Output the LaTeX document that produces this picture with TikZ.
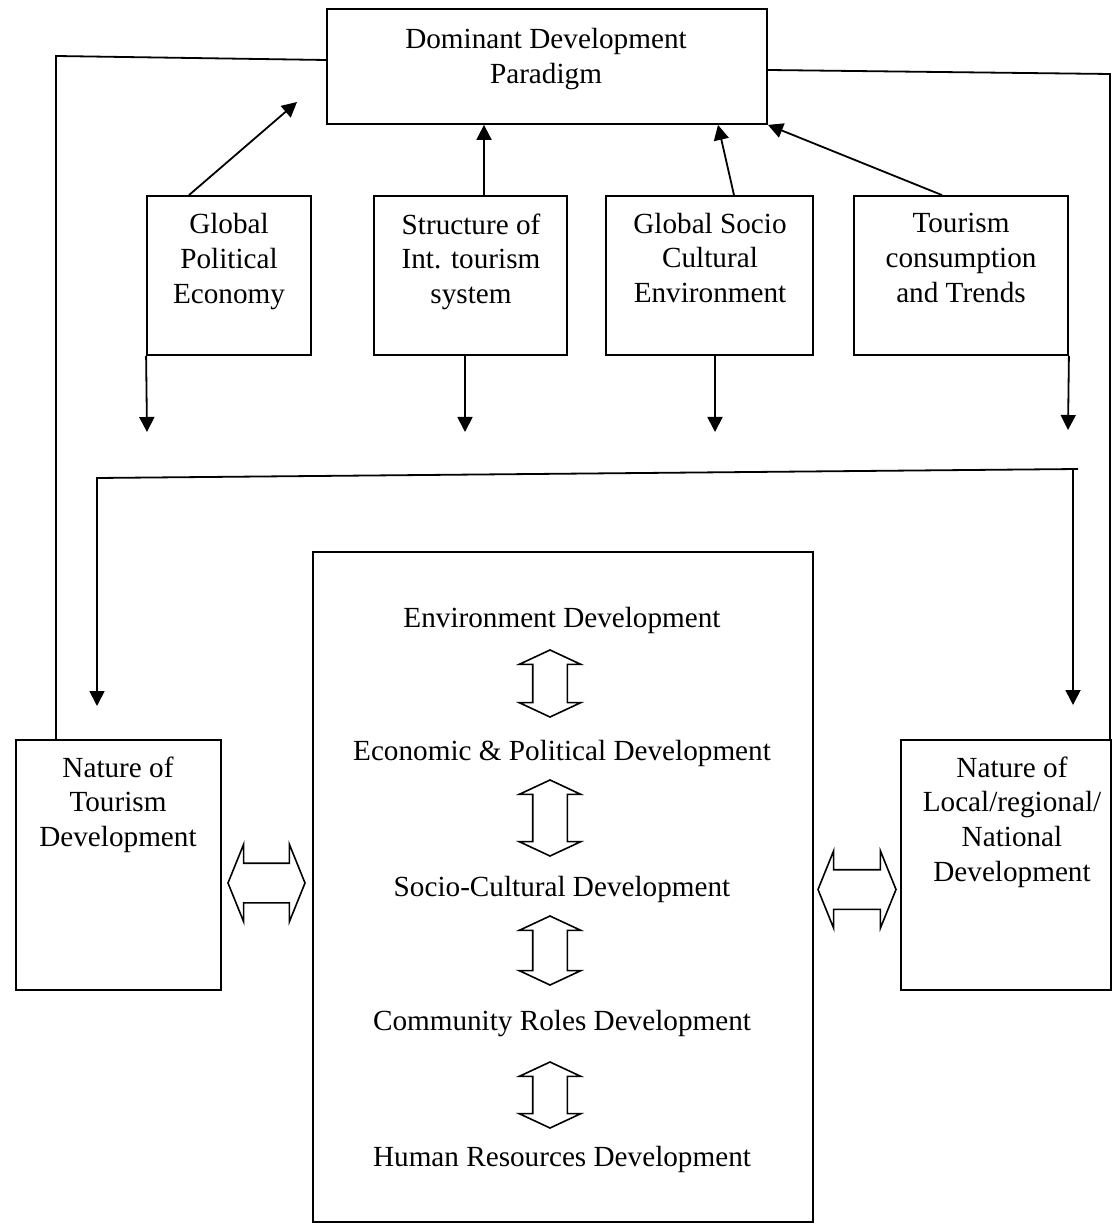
\documentclass[tikz,border=0pt]{standalone}
\usepackage{fontspec}
\setmainfont{Liberation Serif}
\usetikzlibrary{arrows.meta,shapes.arrows}

\tikzset{
  box/.style={draw, line width=0.9pt, inner sep=0pt},
  txt/.style={align=center, inner sep=0pt, font=\fontsize{14.6}{17.3}\selectfont},
  link/.style={line width=0.9pt},
  flow/.style={line width=0.9pt, -{Triangle[length=7.5pt,width=7.5pt]}},
  vdbl/.style={draw, line width=0.8pt, shape=double arrow, rotate=90, inner xsep=0pt,
    inner ysep=8.25pt, double arrow head extend=6.75pt, double arrow tip angle=130},
  hdbl/.style={draw, line width=0.8pt, shape=double arrow, inner xsep=0pt,
    inner ysep=9.5pt, double arrow head extend=9.5pt, double arrow tip angle=136},
}

\begin{document}
\begin{tikzpicture}[x=0.5pt,y=-0.5pt]
\useasboundingbox (0,0) rectangle (1112,1224);

% paradigm on top
\node[box, minimum width=220pt, minimum height=57.5pt] (dom) at (547,66.5) {};
\node[txt] (dom-t) at (546,59) {Dominant Development\\Paradigm};

% the four influences
\node[box, minimum width=82pt, minimum height=79.5pt] (gpe) at (229,275.5) {};
\node[box, minimum width=96.5pt, minimum height=79.5pt] (sits) at (470.5,275.5) {};
\node[box, minimum width=103.5pt, minimum height=79.5pt] (gsce) at (709.5,275.5) {};
\node[box, minimum width=107pt, minimum height=79.5pt] (tct) at (961,275.5) {};
\node[txt] (gpe-t) at (229,261.5) {Global\\Political\\Economy};
\node[txt] (sits-t) at (471,261.5) {Structure of\\Int. tourism\\system};
\node[txt] (gsce-t) at (710,258) {Global Socio\\Cultural\\Environment};
\node[txt] (tct-t) at (961,258) {Tourism\\consumption\\and Trends};

% influences -> paradigm
\coordinate (gpe-up) at (297,102);
\draw[flow] ([xshift=-20pt]gpe.north) -- (gpe-up);
\draw[flow] ([xshift=6.75pt]sits.north) -- ([xshift=6.75pt]sits.north |- dom.south);
\draw[flow] ([xshift=12.25pt]gsce.north) -- ([xshift=85.5pt]dom.south);
\draw[flow] ([xshift=-9.5pt]tct.north) -- (dom.south east);

% influences going down
\coordinate (gpe-dn) at (147,432);
\coordinate (sits-dn) at (465,432);
\coordinate (gsce-dn) at (715,432);
\coordinate (tct-dn) at (1068,430);
\draw[flow] (gpe.south west) -- (gpe-dn);
\draw[flow] ([xshift=-2.75pt]sits.south) -- (sits-dn);
\draw[flow] ([xshift=2.75pt]gsce.south) -- (gsce-dn);
\draw[flow] (tct.south east) -- (tct-dn);

% local level
\node[box, minimum width=102.5pt, minimum height=125pt] (ntd) at (118.5,865) {};
\node[txt] (ntd-t) at (118,804.5) {Nature of\\Tourism\\Development};
\node[box, minimum width=105pt, minimum height=125pt] (nlnd) at (1006,865) {};
\node[txt] (nlnd-t) at (1012,822) {Nature of\\Local/regional/\\National\\Development};

\node[box, minimum width=250pt, minimum height=335pt] (core) at (563,887) {};
\node[txt] (env) at (562,620) {Environment Development};
\node[txt] (econ) at (562,753) {Economic \& Political Development};
\node[txt] (soc) at (562,889) {Socio-Cultural Development};
\node[txt] (comm) at (562,1024) {Community Roles Development};
\node[txt] (hr) at (562,1159) {Human Resources Development};

\node[vdbl, minimum height=33.5pt] (da1) at (550,683.5) {};
\node[vdbl, minimum height=38pt] (da2) at (550,818) {};
\node[vdbl, minimum height=34.5pt] (da3) at (550,950.5) {};
\node[vdbl, minimum height=33pt] (da4) at (550,1095) {};
\node[hdbl, minimum height=38.5pt] (da-l) at (266.5,883) {};
\node[hdbl, minimum height=39pt] (da-r) at (857,889.5) {};

% distribution line
\coordinate (dist-l) at (97,478);
\coordinate (dist-r) at (1078,469);
\coordinate (dist-rd) at (1073,469.5);
\coordinate (ntd-in) at (97,706);
\coordinate (nlnd-in) at (1073,705);
\draw[flow] (dist-r) -- (dist-l) -- (ntd-in);
\draw[flow] (dist-rd) -- (nlnd-in);

% feedback to the paradigm
\coordinate (fb-l) at (56,56);
\coordinate (fb-r) at (1110,74);
\draw[link] ([yshift=3.25pt]dom.west) -- (fb-l) -- (fb-l |- ntd.north);
\draw[link] ([yshift=-1.75pt]dom.east) -- (fb-r) -- (fb-r |- nlnd.north);

\end{tikzpicture}
\end{document}
